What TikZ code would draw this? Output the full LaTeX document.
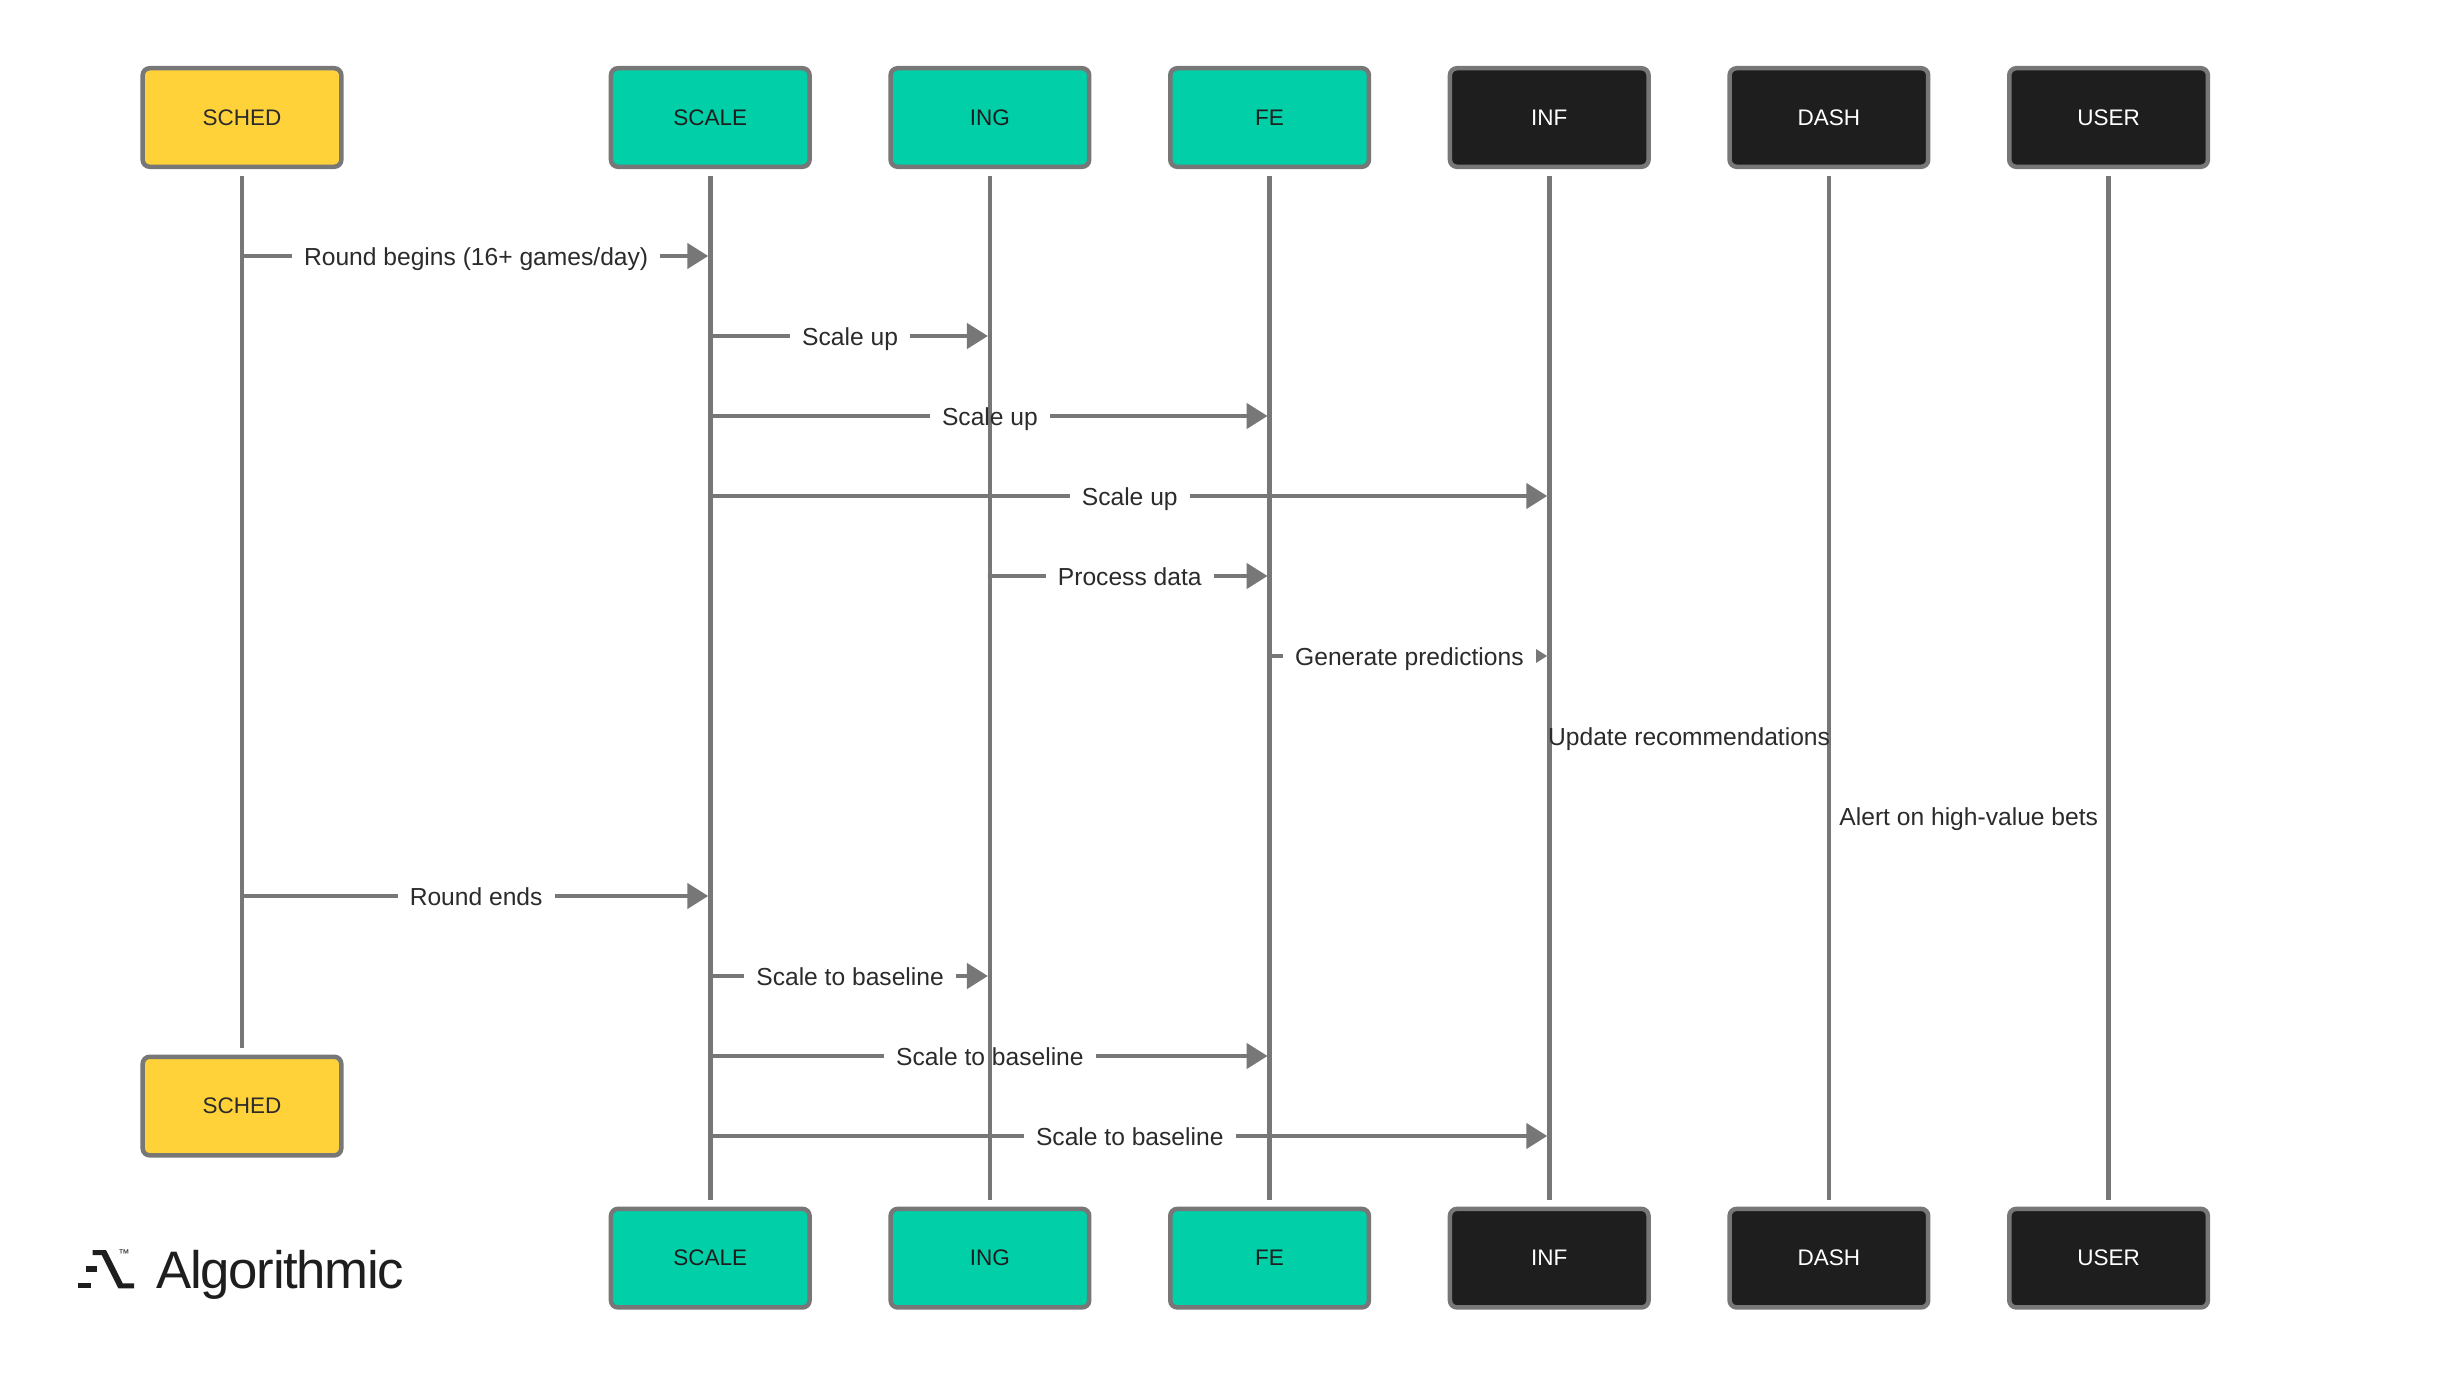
\documentclass[tikz,border=0pt]{standalone}
\usepackage{fontspec}
\setmainfont{Liberation Sans}
\newfontfamily\logofont[LetterSpace=-2.5]{Liberation Sans}
\usepackage{xcolor}
\usepackage{tikz}
\usetikzlibrary{arrows.meta,positioning}

\definecolor{linegrey}{HTML}{777777}
\definecolor{schedyellow}{HTML}{FFD23A}
\definecolor{svcgreen}{HTML}{00CFA8}
\definecolor{svcdark}{HTML}{1E1E1E}
\definecolor{inkgrey}{HTML}{2B2B2B}

\pgfdeclarelayer{lines}
\pgfdeclarelayer{labels}
\pgfsetlayers{lines,main,labels}

% message: the arrow with its gap lies under the lifelines, the text over them
\newcommand{\msgarrow}[4]{%
  \begin{pgfonlayer}{lines}
    \draw [msg] (#1 |- #3) -- node (gap#3) [msggap] {\phantom{#4}} (#2 |- #3);
  \end{pgfonlayer}
  \begin{pgfonlayer}{labels}
    \node (txt#3) [msgtext] at (gap#3) {#4};
  \end{pgfonlayer}
}

\begin{document}
\begin{tikzpicture}[
  x=0.01cm, y=-0.01cm,
  actor/.style={rectangle, rounded corners=0.07cm, minimum width=1.985cm, minimum height=0.985cm, inner sep=0pt, line width=0.045cm, draw=linegrey, font=\fontsize{6.4pt}{8pt}\selectfont, text height=0.155cm, text depth=0cm},
  actoryellow/.style={actor, fill=schedyellow, text=inkgrey},
  actorgreen/.style={actor, fill=svcgreen, text=svcdark},
  actordark/.style={actor, fill=svcdark, text=white},
  lifeline/.style={line width=0.045cm, draw=linegrey, shorten <=0.07cm, shorten >=0.065cm},
  msg/.style={line width=0.045cm, draw=linegrey, line cap=round, -{Triangle[length=0.21cm,width=0.25cm]}, shorten >=0.02cm},
  msggap/.style={fill=white, inner xsep=0.12cm, inner ysep=0pt, font=\fontsize{7pt}{8pt}\selectfont, text height=0.24cm, text depth=0.06cm},
  msgtext/.style={inner sep=0pt, text=inkgrey, font=\fontsize{7pt}{8pt}\selectfont, text height=0.24cm, text depth=0.06cm}
]
\useasboundingbox (0,0) rectangle (2447,1376);

% Top row
\node (schedtop) [actoryellow] at (242,117.5) {SCHED};
\node (scaletop) [actorgreen, right=2.65cm of schedtop] {SCALE};
\node (ingtop) [actorgreen, right=0.765cm of scaletop] {ING};
\node (fetop) [actorgreen, right=0.765cm of ingtop] {FE};
\node (inftop) [actordark, right=0.765cm of fetop] {INF};
\node (dashtop) [actordark, right=0.765cm of inftop] {DASH};
\node (usertop) [actordark, right=0.765cm of dashtop] {USER};

% Bottom row
\node (schedend) [actoryellow, below=8.85cm of schedtop] {SCHED};
\node (scaleend) [actorgreen, below=10.37cm of scaletop] {SCALE};
\node (ingend) [actorgreen, right=0.765cm of scaleend] {ING};
\node (feend) [actorgreen, right=0.765cm of ingend] {FE};
\node (infend) [actordark, right=0.765cm of feend] {INF};
\node (dashend) [actordark, right=0.765cm of infend] {DASH};
\node (userend) [actordark, right=0.765cm of dashend] {USER};

% Lifelines
\draw [lifeline] (schedtop) -- (schedend);
\draw [lifeline] (scaletop) -- (scaleend);
\draw [lifeline] (ingtop) -- (ingend);
\draw [lifeline] (fetop) -- (feend);
\draw [lifeline] (inftop) -- (infend);
\draw [lifeline] (dashtop) -- (dashend);
\draw [lifeline] (usertop) -- (userend);

% Message rows
\coordinate (r1) at (0,256);
\coordinate (r2) at (0,336);
\coordinate (r3) at (0,416);
\coordinate (r4) at (0,496);
\coordinate (r5) at (0,576);
\coordinate (r6) at (0,656);
\coordinate (r7) at (0,736);
\coordinate (r8) at (0,816);
\coordinate (r9) at (0,896);
\coordinate (r10) at (0,976);
\coordinate (r11) at (0,1056);
\coordinate (r12) at (0,1136);

% Messages
\msgarrow{schedtop}{scaletop}{r1}{Round begins (16+ games/day)}
\msgarrow{scaletop}{ingtop}{r2}{Scale up}
\msgarrow{scaletop}{fetop}{r3}{Scale up}
\msgarrow{scaletop}{inftop}{r4}{Scale up}
\msgarrow{ingtop}{fetop}{r5}{Process data}
\msgarrow{fetop}{inftop}{r6}{Generate predictions}
\msgarrow{schedtop}{scaletop}{r9}{Round ends}
\msgarrow{scaletop}{ingtop}{r10}{Scale to baseline}
\msgarrow{scaletop}{fetop}{r11}{Scale to baseline}
\msgarrow{scaletop}{inftop}{r12}{Scale to baseline}

% Labels without an arrow
\begin{pgfonlayer}{labels}
\path (inftop |- r7) -- node (update) [msgtext] {Update recommendations} (dashtop |- r7);
\path (dashtop |- r8) -- node (alert) [msgtext] {Alert on high-value bets} (usertop |- r8);
\end{pgfonlayer}

% Logo
\fill [svcdark] (92.7,1250) -- (106,1250) -- (122.7,1283.3) -- (134,1283.3) -- (134,1288.3) -- (118.3,1288.3) -- (101.7,1255) -- (92.7,1255) -- cycle;
\fill [svcdark] (85.7,1266) rectangle (97.3,1271.7);
\fill [svcdark] (77.7,1282.7) rectangle (90.7,1288.3);
\node (logotm) [inner sep=0pt, text=svcdark, font=\fontsize{3.2pt}{4pt}\selectfont] at (124,1253.5) {™};
\node (logoname) [inner sep=0pt, anchor=base west, text=svcdark, font=\logofont\fontsize{15pt}{18pt}\selectfont] at (156,1288) {Algorithmic};
\end{tikzpicture}
\end{document}
